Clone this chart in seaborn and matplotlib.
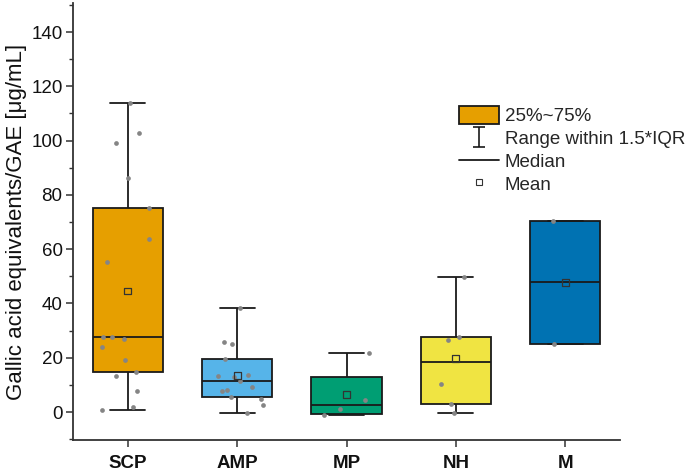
import numpy as np
import pandas as pd
import matplotlib
matplotlib.use("Agg")
import matplotlib.pyplot as plt
import seaborn as sns
from matplotlib.path import Path
from matplotlib.lines import Line2D
from matplotlib.patches import Patch
from matplotlib.ticker import MultipleLocator

# ---------------- data ----------------
categories = ["SCP", "AMP", "MP", "NH", "M"]
colors = ["#E69F00", "#56B4E9", "#009E73", "#F0E442", "#0072B2"]

# box statistics (whisker low, Q1, median, Q3, whisker high)
whisk_low = [0.7, -0.5, -1.2, -0.3, 25.0]
q1 = [14.7, 5.6, -0.6, 2.9, 25.0]
median = [27.6, 11.4, 2.5, 18.3, 47.8]
q3 = [75.2, 19.5, 12.8, 27.5, 70.4]
whisk_high = [113.8, 38.4, 21.6, 49.9, 70.4]
means = [44.6, 13.3, 6.4, 19.8, 47.6]

# individual measurements
scp_pts = [113.8, 102.8, 99.1, 86.2, 75.2, 63.7, 55.3, 27.6, 27.6, 26.9,
           24.0, 19.0, 14.7, 13.3, 7.7, 1.8, 0.7]
amp_pts = [38.4, 25.8, 25.1, 19.5, 13.7, 13.0, 13.4, 11.4, 9.1, 8.1, 7.7,
           5.5, 4.9, 2.5, -0.5]
mp_pts = [21.6, 4.3, 1.0, -1.0]
nh_pts = [49.9, 27.5, 26.5, 10.4, 2.9, -0.3]
m_pts = [70.4, 25.0]

y_label = "Gallic acid equivalents/GAE [μg/mL]"
legend_labels = ["25%~75%", "Range within 1.5*IQR", "Median", "Mean"]

# ---------------- tables ----------------
box_rows = []
for i, c in enumerate(categories):
    for v in (whisk_low[i], q1[i], median[i], q3[i], whisk_high[i]):
        box_rows.append({"group": c, "value": v})
box_df = pd.DataFrame(box_rows)

pts = {"SCP": scp_pts, "AMP": amp_pts, "MP": mp_pts, "NH": nh_pts, "M": m_pts}
pts_df = pd.DataFrame([{"group": g, "value": v} for g in categories for v in pts[g]])
mean_df = pd.DataFrame({"group": categories, "value": means})

# ---------------- style ----------------
sns.set_theme(style="ticks")
plt.rcParams["font.family"] = ["Liberation Sans", "DejaVu Sans"]
edge = "#1a1a1a"

fig = plt.figure(figsize=(6.85, 4.71), dpi=100)
ax = fig.add_axes([73 / 685, 31 / 471, (620 - 73) / 685, (440 - 3) / 471])

sns.boxplot(data=box_df, x="group", y="value", hue="group", order=categories,
            hue_order=categories, palette=colors, saturation=1, width=0.64,
            whis=1.5, showfliers=False, linecolor=edge, linewidth=1.3,
            legend=False, ax=ax)

np.random.seed(3)
sns.stripplot(data=pts_df, x="group", y="value", order=categories,
              color="#858585", size=3.4, jitter=0.25, linewidth=0, ax=ax,
              zorder=4)

n0 = len(ax.collections)
sns.stripplot(data=mean_df, x="group", y="value", order=categories,
              jitter=False, marker="s", size=5, color="#333333",
              edgecolor="#333333", linewidth=0.9, ax=ax, zorder=5)
for coll in ax.collections[n0:]:
    coll.set_facecolor("none")
    coll.set_edgecolor("#333333")

# ---------------- axes ----------------
ax.set_xlim(-0.5, 4.5)
ax.set_ylim(-10.3, 150.7)
ax.yaxis.set_major_locator(MultipleLocator(20))
ax.yaxis.set_minor_locator(MultipleLocator(10))
ax.set_yticks(np.arange(0, 141, 20))
ax.set_xlabel("")
ax.set_ylabel(y_label, fontsize=16, color="#111111", labelpad=3)
for s in ("top", "right"):
    ax.spines[s].set_visible(False)
for s in ("left", "bottom"):
    ax.spines[s].set_linewidth(1.3)
    ax.spines[s].set_color("#333333")
ax.tick_params(axis="y", which="major", length=5, width=1.1, labelsize=13.5,
               colors="#333333", labelcolor="#111111", pad=2.5)
ax.tick_params(axis="y", which="minor", length=3, width=1.0, colors="#333333")
ax.tick_params(axis="x", length=5, width=1.1, labelsize=13.5,
               colors="#333333", labelcolor="#111111", pad=6)
for lab in ax.get_xticklabels():
    lab.set_fontweight("bold")

# ---------------- legend ----------------
ipath = Path([(-0.6, 1), (0.6, 1), (0, 1), (0, -1), (-0.6, -1), (0.6, -1)],
             [Path.MOVETO, Path.LINETO, Path.MOVETO, Path.LINETO,
              Path.MOVETO, Path.LINETO])
handles = [
    Patch(facecolor=colors[0], edgecolor=edge, linewidth=1.3),
    Line2D([], [], ls="none", marker=ipath, markersize=14.5, mec=edge,
           mfc="none", mew=1.2),
    Line2D([], [], color=edge, lw=1.3),
    Line2D([], [], ls="none", marker="s", markersize=4.5, mfc="none",
           mec="#333333", mew=0.8),
]
fig.legend(handles, legend_labels, loc="upper left",
           bbox_to_anchor=(459 / 685, 1 - 106 / 471), frameon=False,
           fontsize=13.5, handlelength=2.13, handleheight=1.07,
           handletextpad=0.3, labelspacing=0.2, borderpad=0,
           borderaxespad=0)

fig.savefig("out.png", dpi=100)
